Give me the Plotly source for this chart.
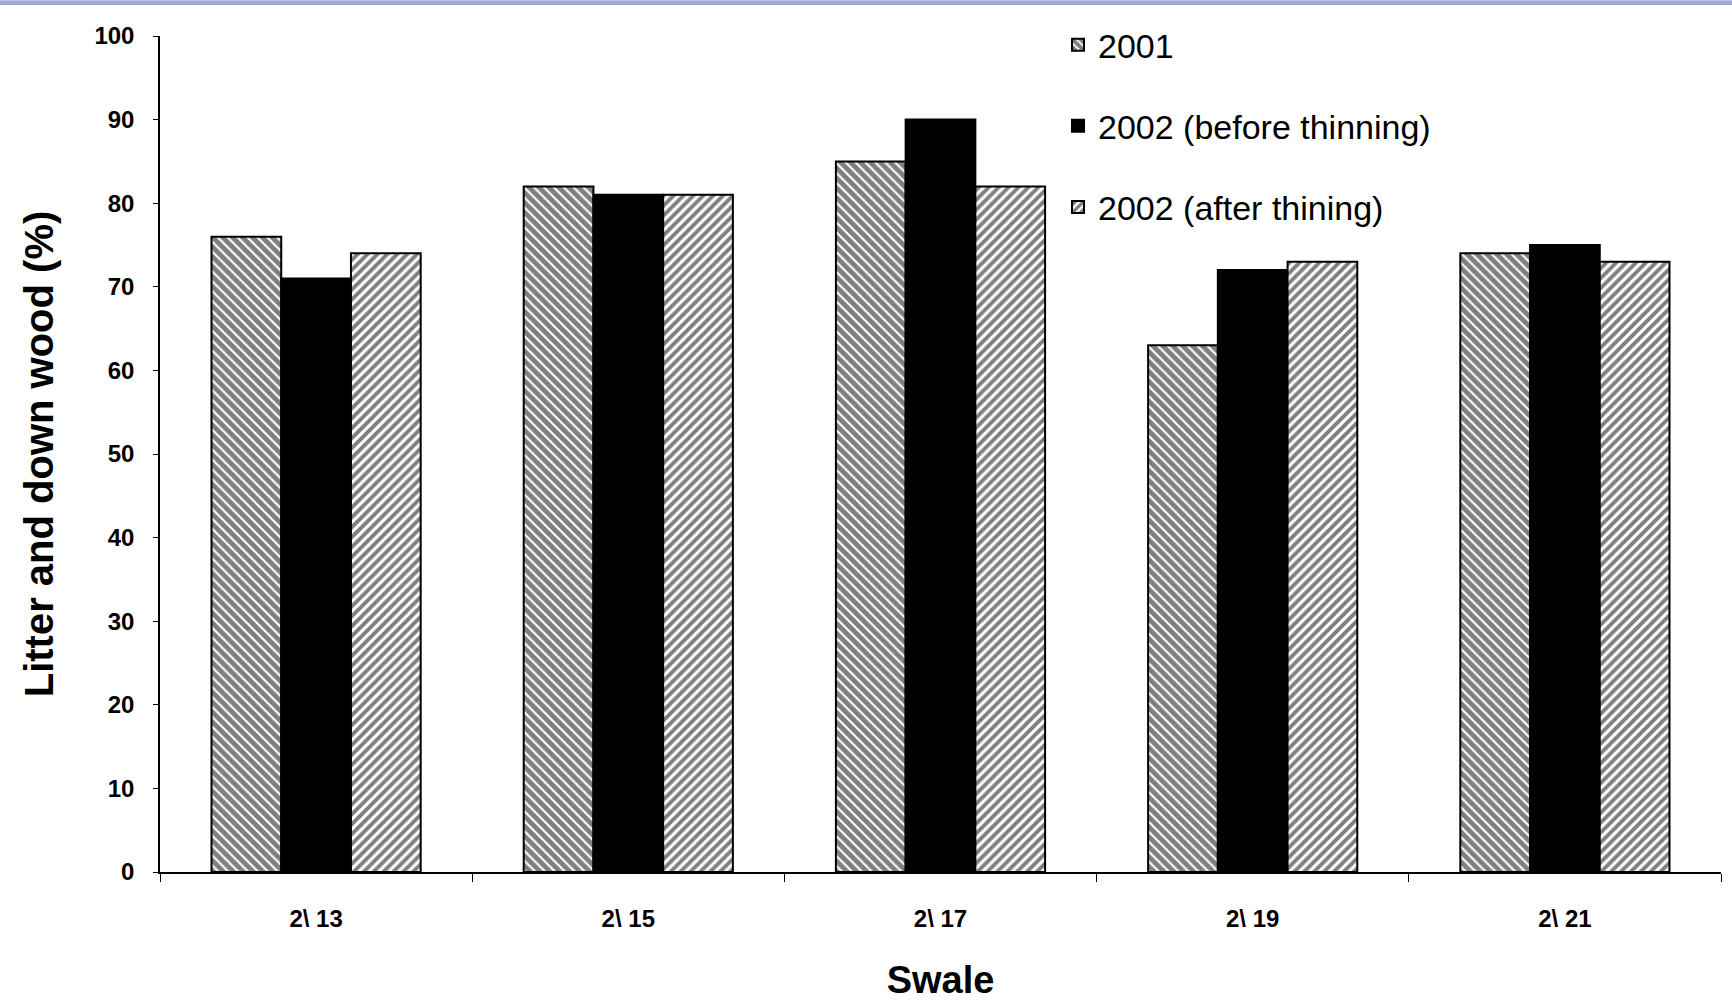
import plotly.graph_objects as go

categories = ["2\\ 13", "2\\ 15", "2\\ 17", "2\\ 19", "2\\ 21"]
s2001 = [76, 82, 85, 63, 74]
s2002_before = [71, 81, 90, 72, 75]
s2002_after = [74, 81, 82, 73, 73]
series_names = ["2001", "2002 (before thinning)", "2002 (after thining)"]
y_ticks = [0, 10, 20, 30, 40, 50, 60, 70, 80, 90, 100]

FONT = "Liberation Sans Narrow, Arial Narrow, Liberation Sans, Arial, sans-serif"

W, H = 1732, 1005
ml, mr, mt, mb = 160, 11, 36, 130
pw, ph = W - ml - mr, H - mt - mb

fig = go.Figure()
fig.add_trace(go.Bar(
    x=categories, y=s2001, name=series_names[0], legendgroup="a",
    marker=dict(color="white", line=dict(color="black", width=2),
                pattern=dict(shape="\\", fgcolor="black", bgcolor="white", size=7, solidity=0.7)),
))
fig.add_trace(go.Bar(
    x=categories, y=s2002_before, name=series_names[1], legendgroup="b",
    marker=dict(color="black", line=dict(color="black", width=2)),
))
fig.add_trace(go.Bar(
    x=categories, y=s2002_after, name=series_names[2], legendgroup="c",
    marker=dict(color="white", line=dict(color="black", width=2),
                pattern=dict(shape="/", fgcolor="black", bgcolor="white", size=7, solidity=0.56)),
))

fig.update_layout(
    width=W, height=H,
    margin=dict(l=ml, r=mr, t=mt, b=mb),
    paper_bgcolor="white", plot_bgcolor="white",
    barmode="group", bargap=0.33, bargroupgap=0,
    font=dict(family=FONT, color="black"),
    legend=dict(
        x=(1058 - ml) / pw, y=1 + (mt - 16) / ph, xanchor="left", yanchor="top",
        font=dict(size=34, family=FONT, color="black"),
        tracegroupgap=34, bgcolor="rgba(0,0,0,0)",
    ),
    xaxis=dict(
        showline=True, linecolor="black", linewidth=1.5,
        ticks="outside", tickson="boundaries", ticklen=8, tickcolor="black",
        tickfont=dict(size=24, family=FONT, weight="bold"),
        ticklabelstandoff=24,
        title=dict(text="Swale", font=dict(size=38, family=FONT, weight="bold"), standoff=36),
        showgrid=False,
    ),
    yaxis=dict(
        range=[0, 100], tickvals=y_ticks,
        showline=True, linecolor="black", linewidth=1.5,
        ticks="outside", ticklen=5, tickcolor="black",
        tickfont=dict(size=24, family=FONT, weight="bold"),
        ticklabelstandoff=14,
        title=dict(text="Litter and down wood (%)", font=dict(size=40, family=FONT, weight="bold"), standoff=28),
        showgrid=False, zeroline=False,
    ),
    shapes=[dict(
        type="rect", xref="paper", yref="paper",
        x0=-ml / pw, x1=1 + mr / pw, y0=1 + (mt - 5) / ph, y1=1 + mt / ph,
        fillcolor="#A3A8DA", line=dict(width=0), layer="above",
    )],
)

fig.write_html("out.html")
